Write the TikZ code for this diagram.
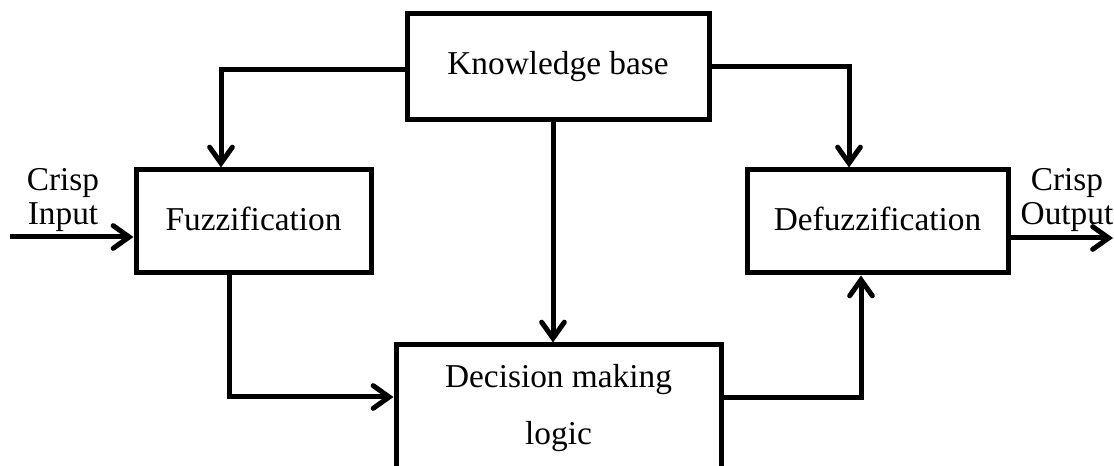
\documentclass[tikz,border=0pt]{standalone}
\usepackage{fontspec}
\setmainfont{Liberation Serif}
\usetikzlibrary{arrows.meta}
\begin{document}
\begin{tikzpicture}[x=0.75pt,y=-0.75pt,
  blk/.style={draw,line width=3.75pt,inner sep=0pt,font=\fontsize{25}{30}\selectfont},
  conn/.style={line width=3.75pt,-{Straight Barb[length=12pt,width=17pt,line cap=round]}},
  lbl/.style={align=center,inner sep=0pt,font=\fontsize{25}{25}\selectfont}]
\useasboundingbox (0,0) rectangle (1114,466);
\node[blk,minimum width=226.5pt,minimum height=79.5pt] (kb) at (558,67) {Knowledge base};
\node[blk,minimum width=176.25pt,minimum height=77.25pt] (fuzz) at (253.5,221.5) {\raisebox{4.5pt}{Fuzzification}};
\node[blk,minimum width=195.75pt,minimum height=77.25pt] (defuzz) at (877.5,221.5) {\raisebox{4.5pt}{Defuzzification}};
\node[blk,minimum width=243.75pt,minimum height=95.25pt,align=center,
  font=\fontsize{25}{42.75}\selectfont] (dml) at (558.5,408.5) {Decision making\\logic};
\coordinate (lx) at (221,70);
\coordinate (rx) at (849,67);
\coordinate (cx) at (553,0);
\coordinate (fx) at (229,397);
\coordinate (dx) at (861,398);
\coordinate (in) at (10,237);
\coordinate (out) at (1113,238);
\draw[conn] (kb.west |- lx) -| (lx |- fuzz.north);
\draw[conn] (kb.east |- rx) -| (rx |- defuzz.north);
\draw[conn] (cx |- kb.south) -- (cx |- dml.north);
\draw[conn] (fx |- fuzz.south) |- (dml.west |- fx);
\draw[conn] (dml.east |- dx) -| (dx |- defuzz.south);
\draw[conn] (in) -- (in -| fuzz.west);
\draw[conn] (defuzz.east |- out) -- (out);
\node[lbl] (cin) at (63,200) {Crisp\\Input};
\node[lbl] (cout) at (1067,200) {Crisp\\Output};
\end{tikzpicture}
\end{document}
